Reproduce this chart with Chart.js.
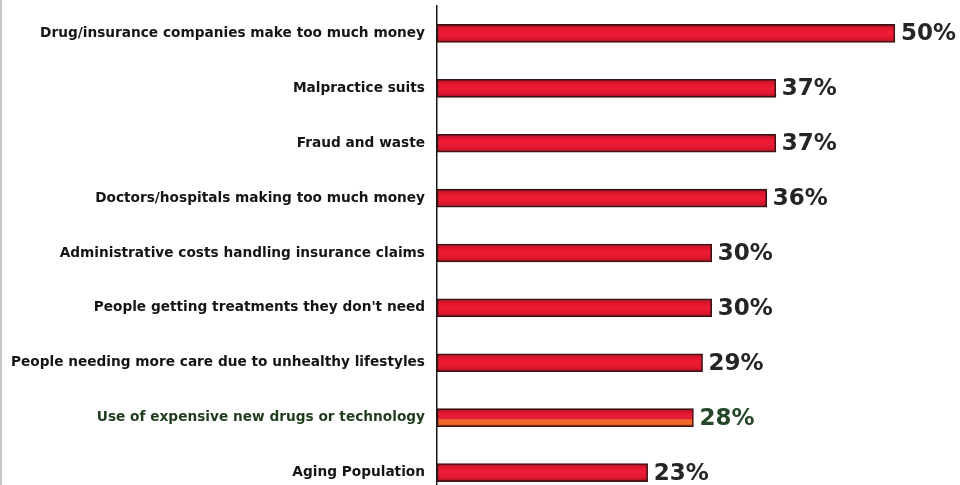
<!DOCTYPE html>
<html>
<head>
<meta charset="utf-8">
<script src="https://cdn.jsdelivr.net/npm/chart.js@4"></script>
<style>
  html, body { margin: 0; padding: 0; background: #fff; overflow: hidden; }
  #wrap { position: relative; width: 958px; height: 502px; border-left: 2px solid #c8c8c8; }
</style>
</head>
<body>
<div id="wrap"><canvas id="c"></canvas></div>
<script>
// Reasons people give for rising health care costs (% of respondents)
const categories = [
  "Drug/insurance companies make too much money",
  "Malpractice suits",
  "Fraud and waste",
  "Doctors/hospitals making too much money",
  "Administrative costs handling insurance claims",
  "People getting treatments they don't need",
  "People needing more care due to unhealthy lifestyles",
  "Use of expensive new drugs or technology",
  "Aging Population"
];
const percentages = [50, 37, 37, 36, 30, 30, 29, 28, 23];
// Label colour per row; the technology row is printed in green
const labelColors = ["#151515", "#151515", "#151515", "#151515", "#151515",
                     "#151515", "#151515", "#1f3d1c", "#151515"];
const valueColors = ["#252525", "#252525", "#252525", "#252525", "#252525",
                     "#252525", "#252525", "#27472a", "#252525"];
// Rows whose bar carries an orange lower stripe
const stripedRows = [7];

const BAR_H = 18;

// Shaded fill: darker edges, bright red middle
function barFill(ctx) {
  const chart = ctx.chart;
  const y = chart.scales && chart.scales.y;
  if (!chart.chartArea || !y || ctx.dataIndex === undefined) return '#e3172f';
  const cy = y.getPixelForValue(ctx.dataIndex);
  const g = chart.ctx.createLinearGradient(0, cy - BAR_H / 2, 0, cy + BAR_H / 2);
  if (stripedRows.includes(ctx.dataIndex)) {
    g.addColorStop(0, '#a8132a');
    g.addColorStop(0.25, '#e61a33');
    g.addColorStop(0.55, '#e3213a');
    g.addColorStop(0.62, '#f2662a');
    g.addColorStop(0.85, '#ee6a24');
    g.addColorStop(1, '#a0301c');
  } else {
    g.addColorStop(0, '#a8132a');
    g.addColorStop(0.25, '#e4172f');
    g.addColorStop(0.5, '#ee1d35');
    g.addColorStop(0.8, '#dd162d');
    g.addColorStop(1, '#9a1124');
  }
  return g;
}

// Prints "NN%" just past the end of each bar
const valueLabels = {
  id: 'valueLabels',
  afterDatasetsDraw(chart) {
    const ctx = chart.ctx;
    const meta = chart.getDatasetMeta(0);
    ctx.save();
    ctx.font = 'bold 23px "DejaVu Sans", sans-serif';
    ctx.textAlign = 'left';
    ctx.textBaseline = 'middle';
    meta.data.forEach((bar, i) => {
      ctx.fillStyle = valueColors[i];
      ctx.fillText(percentages[i] + '%', bar.x + 6, bar.y + 1);
    });
    ctx.restore();
  }
};

new Chart(document.getElementById('c'), {
  type: 'bar',
  data: {
    labels: categories,
    datasets: [{
      data: percentages,
      backgroundColor: barFill,
      borderColor: '#3a1212',
      borderWidth: 1.6,
      borderSkipped: false,
      barThickness: BAR_H
    }]
  },
  options: {
    indexAxis: 'y',
    responsive: true,
    maintainAspectRatio: false,
    animation: false,
    layout: { padding: { top: 6, bottom: 2, left: 0, right: 1 } },
    plugins: { legend: { display: false }, tooltip: { enabled: false } },
    scales: {
      x: {
        min: 0,
        max: 57,
        display: false,
        grid: { display: false }
      },
      y: {
        afterFit(scale) {
          scale.width = 435;
          scale.paddingTop = 0;
          scale.paddingBottom = 0;
        },
        grid: { display: false },
        border: { display: true, color: '#1a1a1a', width: 1.5 },
        ticks: {
          padding: 4,
          autoSkip: false,
          color: (ctx) => labelColors[ctx.index],
          font: { family: '"DejaVu Sans", sans-serif', weight: 'bold', size: 13.7 }
        }
      }
    }
  },
  plugins: [valueLabels]
});
</script>
</body>
</html>
